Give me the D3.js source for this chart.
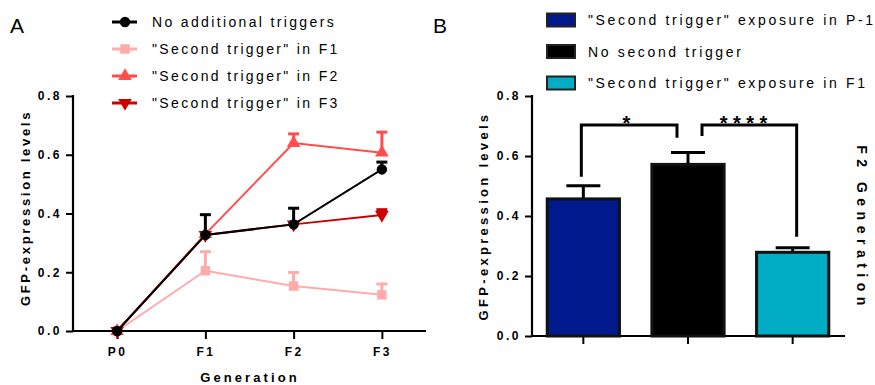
<!DOCTYPE html>
<html>
<head>
<meta charset="utf-8">
<script src="https://cdn.jsdelivr.net/npm/d3@7"></script>
<style>
	body { margin: 0; background: #fff; }
	svg text { font-family: "Liberation Sans", Arial, sans-serif; fill: #000; }
	.tick-lbl { font-size: 12px; font-weight: bold; letter-spacing: 2.5px; }
	.axis-title { font-size: 13px; font-weight: bold; }
	.legend-text { font-size: 14px; letter-spacing: 2.35px; }
</style>
</head>
<body>
<svg id="chart" width="875" height="385"></svg>
<script>
// ######################### Data ##############################
// Panel A: generations and series (mean, upper error).
const generations = ["P0", "F1", "F2", "F3"];
const seriesNames = ["No additional triggers", "\"Second trigger\" in F1", "\"Second trigger\" in F2", "\"Second trigger\" in F3"];
const noTriggerVals = [0, 0.327, 0.363, 0.550];
const noTriggerErr = [0, 0.069, 0.055, 0.025];
const triggerF1Vals = [0, 0.205, 0.153, 0.123];
const triggerF1Err = [0, 0.065, 0.046, 0.037];
const triggerF2Vals = [0, 0.330, 0.640, 0.607];
const triggerF2Err = [0, 0, 0.031, 0.07];
const triggerF3Vals = [0, 0.327, 0.363, 0.395];
const triggerF3Err = [0, 0, 0, 0.018];
const yTicks = [0, 0.2, 0.4, 0.6, 0.8];

// Panel B: F2 generation bars.
const barNames = ["\"Second trigger\" exposure in P-1", "No second trigger", "\"Second trigger\" exposure in F1"];
const barVals = [0.457, 0.572, 0.279];
const barErr = [0.044, 0.040, 0.015];
// Significance brackets: [from, to, top, left leg end, right leg end, label]
const brackets = [
	[0, 1, 0.703, 0.531, 0.661, "*"],
	[1, 2, 0.703, 0.667, 0.331, "****"]
];

let svg = d3.select("#chart");

// ######################### Panel A ##############################
let xA = d3.scaleLinear().domain([-0.5, 3.5]).range([73, 426]);
let yA = d3.scaleLinear().domain([0, 0.8]).range([331, 96]);

svg.append("text").attr("x", 10).attr("y", 33).style("font-size", "21px").text("A");

// y axis
let gyA = svg.append("g").attr("transform", "translate(73,0)")
	.call(d3.axisLeft(yA).tickValues(yTicks).tickFormat(d3.format(".1f")).tickSize(7).tickPadding(4));
// x axis
let gxA = svg.append("g").attr("transform", "translate(0,331)")
	.call(d3.axisBottom(xA).tickValues([0, 1, 2, 3]).tickFormat((d) => generations[d]).tickSize(8).tickPadding(8));

[gyA, gxA].forEach(function (g) {
	g.select(".domain").remove();
	g.selectAll(".tick line").attr("stroke-width", 2);
	g.selectAll(".tick text").attr("class", "tick-lbl");
});
svg.append("line").attr("x1", 73).attr("x2", 73).attr("y1", 95).attr("y2", 332).attr("stroke", "#000").attr("stroke-width", 2.2);
svg.append("line").attr("x1", 72).attr("x2", 426).attr("y1", 331).attr("y2", 331).attr("stroke", "#000").attr("stroke-width", 2.2);

svg.append("text").attr("class", "axis-title")
	.attr("transform", "translate(30,208) rotate(-90)")
	.style("text-anchor", "middle").style("letter-spacing", "2.7px")
	.text("GFP-expression levels");
svg.append("text").attr("class", "axis-title")
	.attr("x", 250).attr("y", 382)
	.style("text-anchor", "middle").style("letter-spacing", "3.1px")
	.text("Generation");

let seriesA = [
	{ vals: triggerF1Vals, err: triggerF1Err, color: "#ffabab", shape: d3.symbolSquare },
	{ vals: triggerF2Vals, err: triggerF2Err, color: "#ff4d4d", shape: d3.symbolTriangle },
	{ vals: triggerF3Vals, err: triggerF3Err, color: "#cc0000", shape: "down" },
	{ vals: noTriggerVals, err: noTriggerErr, color: "#000000", shape: d3.symbolCircle }
];

function marker(g, shape, color, cx, cy) {
	if (shape === "down") {
		g.append("path").attr("d", d3.symbol().type(d3.symbolTriangle).size(80)())
			.attr("transform", "translate(" + cx + "," + cy + ") rotate(180)").attr("fill", color);
	} else {
		let size = shape === d3.symbolCircle ? 85 : (shape === d3.symbolSquare ? 90 : 80);
		g.append("path").attr("d", d3.symbol().type(shape).size(size)())
			.attr("transform", "translate(" + cx + "," + cy + ")").attr("fill", color);
	}
}

let line = d3.line().x((d, i) => xA(i)).y((d) => yA(d));
seriesA.forEach(function (s) {
	let g = svg.append("g");
	g.append("path").datum(s.vals).attr("d", line)
		.attr("fill", "none").attr("stroke", s.color).attr("stroke-width", 2);
	s.vals.forEach(function (v, i) {
		if (s.err[i] > 0) {
			g.append("line").attr("x1", xA(i)).attr("x2", xA(i))
				.attr("y1", yA(v)).attr("y2", yA(v + s.err[i]))
				.attr("stroke", s.color).attr("stroke-width", 3);
			g.append("line").attr("x1", xA(i) - 5.5).attr("x2", xA(i) + 5.5)
				.attr("y1", yA(v + s.err[i])).attr("y2", yA(v + s.err[i]))
				.attr("stroke", s.color).attr("stroke-width", 3);
		}
		marker(g, s.shape, s.color, xA(i), yA(v));
	});
});

// Legend A
let legendOrder = [3, 0, 1, 2];
legendOrder.forEach(function (k, i) {
	let s = seriesA[k];
	let y = 22 + i * 27;
	svg.append("line").attr("x1", 112).attr("x2", 137).attr("y1", y).attr("y2", y)
		.attr("stroke", s.color).attr("stroke-width", 3);
	marker(svg, s.shape, s.color, 125, y);
	svg.append("text").attr("class", "legend-text").attr("x", 152).attr("y", y + 5).text(seriesNames[i]);
});

// ######################### Panel B ##############################
let xB = d3.scaleBand().domain(d3.range(barVals.length)).range([531, 845]).paddingInner(0.31).paddingOuter(0.155);
let yB = d3.scaleLinear().domain([0, 0.8]).range([336, 96]);
let barColors = ["#001a8e", "#000000", "#00adc5"];

svg.append("text").attr("x", 433).attr("y", 33).style("font-size", "21px").text("B");

let gyB = svg.append("g").attr("transform", "translate(532,0)")
	.call(d3.axisLeft(yB).tickValues(yTicks).tickFormat(d3.format(".1f")).tickSize(7).tickPadding(4));
let gxB = svg.append("g").attr("transform", "translate(0,336)")
	.call(d3.axisBottom(xB).tickFormat("").tickSize(8));
[gyB, gxB].forEach(function (g) {
	g.select(".domain").remove();
	g.selectAll(".tick line").attr("stroke-width", 2);
	g.selectAll(".tick text").attr("class", "tick-lbl");
});
svg.append("line").attr("x1", 532).attr("x2", 532).attr("y1", 95).attr("y2", 337).attr("stroke", "#000").attr("stroke-width", 2.2);
svg.append("line").attr("x1", 531).attr("x2", 845).attr("y1", 336).attr("y2", 336).attr("stroke", "#000").attr("stroke-width", 2.2);

svg.append("text").attr("class", "axis-title")
	.attr("transform", "translate(488,216) rotate(-90)")
	.style("text-anchor", "middle").style("letter-spacing", "3.3px")
	.text("GFP-expression levels");
svg.append("text").attr("class", "axis-title")
	.attr("transform", "translate(857,228) rotate(90)")
	.style("text-anchor", "middle").style("letter-spacing", "5.5px").style("font-size", "14px")
	.text("F2 Generation");

let bars = svg.selectAll(".bar").data(barVals).enter().append("g").attr("class", "bar");
bars.append("line")
	.attr("x1", (d, i) => xB(i) + xB.bandwidth() / 2).attr("x2", (d, i) => xB(i) + xB.bandwidth() / 2)
	.attr("y1", (d) => yB(d)).attr("y2", (d, i) => yB(d + barErr[i]))
	.attr("stroke", "#000").attr("stroke-width", 3);
bars.append("line")
	.attr("x1", (d, i) => xB(i) + xB.bandwidth() / 2 - 17).attr("x2", (d, i) => xB(i) + xB.bandwidth() / 2 + 17)
	.attr("y1", (d, i) => yB(d + barErr[i])).attr("y2", (d, i) => yB(d + barErr[i]))
	.attr("stroke", "#000").attr("stroke-width", 3);
bars.append("rect")
	.attr("x", (d, i) => xB(i)).attr("y", (d) => yB(d))
	.attr("width", xB.bandwidth()).attr("height", (d) => yB(0) - yB(d))
	.attr("fill", (d, i) => barColors[i]).attr("stroke", "#111").attr("stroke-width", 3);

// Significance brackets
brackets.forEach(function (b, k) {
	let x1 = xB(b[0]) + xB.bandwidth() / 2 + (k === 0 ? -2 : 14);
	let x2 = xB(b[1]) + xB.bandwidth() / 2 + (k === 0 ? -11 : 4);
	svg.append("path")
		.attr("d", "M" + x1 + "," + yB(b[3]) + "V" + yB(b[2]) + "H" + x2 + "V" + yB(b[4]))
		.attr("fill", "none").attr("stroke", "#000").attr("stroke-width", 3);
	svg.append("text").attr("x", (x1 + x2) / 2 + (k === 0 ? 0 : -3)).attr("y", yB(b[2]) + 5)
		.style("text-anchor", "middle").style("font-size", "20px").style("font-weight", "bold")
		.style("letter-spacing", "5.5px").text(b[5]);
});

// Legend B
barNames.forEach(function (name, i) {
	let y = 20 + i * 31.5;
	svg.append("rect").attr("x", 547).attr("y", y - 6.5).attr("width", 28).attr("height", 13)
		.attr("fill", barColors[i]).attr("stroke", "#222").attr("stroke-width", 2);
	svg.append("text").attr("class", "legend-text").attr("x", 588).attr("y", y + 5)
		.style("letter-spacing", "2.65px").text(name);
});
</script>
</body>
</html>
